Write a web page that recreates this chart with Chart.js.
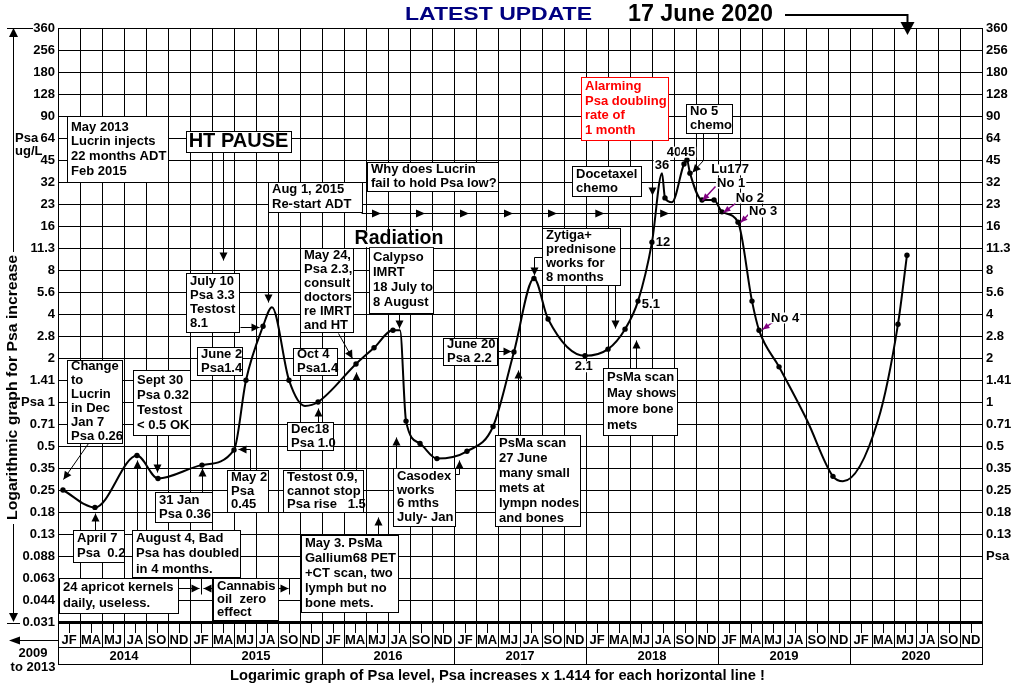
<!DOCTYPE html>
<html>
<head>
<meta charset="utf-8">
<title>Psa log graph</title>
<script src="https://cdn.jsdelivr.net/npm/chart.js@4.4.1/dist/chart.umd.min.js"></script>
<style>
  html, body { margin: 0; padding: 0; background: #fff; }
  canvas { display: block; }
</style>
</head>
<body>
<canvas id="psaChart" width="1021" height="690"></canvas>
<script>
// x = months counted from 1 Jan 2014, y = Psa in ug/L
const months = [0.45, 3.36, 7.18, 9.09, 13.09, 16.0, 17.09, 18.64, 19.45, 21.0, 22.45, 23.64,
  27.09, 28.73, 30.45, 31.09, 31.64, 32.91, 34.45, 37.18, 39.55, 41.45, 43.27, 44.55,
  47.91, 50.0, 51.55, 52.73, 54.0, 54.91, 55.18, 55.82, 56.91, 57.18, 57.45, 58.55,
  59.64, 60.36, 61.82, 63.09, 63.73, 65.55, 68.09, 70.45, 71.36, 74.55, 76.36, 77.18];
const psa = [0.25, 0.19, 0.43, 0.3, 0.37, 0.47, 1.41, 3.3, 4.45, 1.41, 0.94, 1.0,
  1.82, 2.35, 3.1, 3.1, 0.74, 0.52, 0.41, 0.46, 0.68, 2.2, 7.0, 3.7,
  2.07, 2.3, 3.15, 4.9, 12.4, 36.8, 24.9, 23.3, 42.5, 45.3, 36.8, 24.1,
  24.1, 20, 17, 4.9, 3.1, 1.74, 0.75, 0.31, 0.287, 0.75, 3.4, 10.1];
// 1 = measured point drawn as a dot, 0 = bend of the curve only
const dotShown = [1, 1, 1, 1, 1, 1, 1, 1, 0, 1, 0, 1,
  1, 1, 1, 0, 1, 1, 1, 1, 1, 1, 1, 1,
  1, 1, 1, 1, 1, 0, 1, 0, 1, 1, 1, 1,
  1, 1, 1, 1, 1, 1, 0, 1, 0, 0, 1, 1];

// one horizontal line per x1.414 step
const yTickLabels = ['360', '256', '180', '128', '90', '64', '45', '32', '23', '16', '11.3', '8', '5.6', '4',
  '2.8', '2', '1.41', '1', '0.71', '0.5', '0.35', '0.25', '0.18', '0.13', '0.088', '0.063', '0.044', '0.031'];
const leftLabels = yTickLabels.map(s => (s === '1' ? 'Psa 1' : s));
const rightLabels = yTickLabels.map((s, i) => (i < 24 ? s : i === 24 ? 'Psa' : ''));
const yTickValues = yTickLabels.map((s, i) => Math.SQRT2 ** (17 - i));
const monthPairs = ['JF', 'MA', 'MJ', 'JA', 'SO', 'ND'];
const years = ['2014', '2015', '2016', '2017', '2018', '2019', '2020'];

const FONT = '"Liberation Sans", Arial, Helvetica, sans-serif';

// notes: m = month, r = grid row counted down from the 360 line
const notes = [
  { m0: 0.82, r0: 4.0, m1: 10.0, r1: 7.0, lines: ['May 2013', 'Lucrin injects', '22 months ADT', 'Feb 2015'], lh: 14.7 },
  { m0: 11.64, r0: 4.68, m1: 21.18, r1: 5.64, lines: ['HT PAUSE'], size: 20, center: true },
  { m0: 19.09, r0: 7.0, m1: 27.6, r1: 8.36, lines: ['Aug 1, 2015', 'Re-start ADT'], lh: 15 },
  { m0: 28.09, r0: 6.09, m1: 40, r1: 7.41, lines: ['Why does Lucrin', 'fail to hold Psa low?'] },
  { m0: 47.55, r0: 2.23, m1: 55.45, r1: 5.09, lines: ['Alarming', 'Psa doubling', 'rate of', '1 month'], lh: 14.7, color: '#ff0000' },
  { m0: 46.73, r0: 6.27, m1: 53, r1: 7.64, lines: ['Docetaxel', 'chemo'] },
  { m0: 57.09, r0: 3.45, m1: 61.27, r1: 4.77, lines: ['No 5', 'chemo'] },
  { m0: 11.64, r0: 11.14, m1: 16.45, r1: 13.82, lines: ['July 10', 'Psa 3.3', 'Testost', '8.1'] },
  { m0: 12.64, r0: 14.5, m1: 16.73, r1: 15.77, lines: ['June 2', 'Psa1.4'] },
  { m0: 0.82, r0: 15.09, m1: 5.82, r1: 18.86, lines: ['Change', 'to', 'Lucrin', 'in Dec', 'Jan 7', 'Psa 0.26'] },
  { m0: 6.82, r0: 15.55, m1: 12, r1: 18.5, lines: ['Sept 30', 'Psa 0.32', 'Testost', '< 0.5 OK'], lh: 15 },
  { m0: 21.36, r0: 14.55, m1: 25.36, r1: 15.77, lines: ['Oct 4', 'Psa1.4'] },
  { m0: 20.82, r0: 17.91, m1: 25, r1: 19.18, lines: ['Dec18', 'Psa 1.0'] },
  { m0: 22, r0: 10, m1: 26.82, r1: 13.82, lines: ['May 24,', 'Psa 2.3,', 'consult', 'doctors', 're IMRT', 'and HT'] },
  { m0: 28.27, r0: 9.95, m1: 34.09, r1: 12.95, lines: ['Calypso', 'IMRT', '18 July to', '8 August'], lh: 15 },
  { m0: 20.45, r0: 20.09, m1: 27.73, r1: 22, lines: ['Testost 0.9,', 'cannot stop', 'Psa rise   1.5'], lh: 13.7 },
  { m0: 15.36, r0: 20.09, m1: 19.09, r1: 22, lines: ['May 2', 'Psa', '0.45'], lh: 13.7 },
  { m0: 8.82, r0: 21.09, m1: 14, r1: 22.45, lines: ['31 Jan', 'Psa 0.36'] },
  { m0: 1.36, r0: 22.82, m1: 6, r1: 24.27, lines: ['April 7', 'Psa  0.2'], lh: 15 },
  { m0: 6.73, r0: 22.82, m1: 16.55, r1: 24.95, lines: ['August 4, Bad', 'Psa has doubled', 'in 4 months.'], lh: 15.5 },
  { m0: 0.09, r0: 25, m1: 10.91, r1: 26.59, lines: ['24 apricot kernels', 'daily, useless.'], lh: 16 },
  { m0: 14.09, r0: 25, m1: 20, r1: 26.9, lines: ['Cannabis', 'oil  zero', 'effect'], lh: 13 },
  { m0: 22.09, r0: 23.05, m1: 30.91, r1: 26.55, lines: ['May 3. PsMa', 'Gallium68 PET', '+CT scan, two', 'lymph but no', 'bone mets.'], lh: 15 },
  { m0: 30.45, r0: 20, m1: 36.09, r1: 22.64, lines: ['Casodex', 'works', '6 mths', 'July- Jan'], lh: 13.7 },
  { m0: 39.73, r0: 18.5, m1: 47.45, r1: 22.64, lines: ['PsMa scan', '27 June', 'many small', 'mets at', 'lympn nodes', 'and bones'], lh: 15 },
  { m0: 35, r0: 14.09, m1: 39.91, r1: 15.32, lines: ['June 20', 'Psa 2.2'] },
  { m0: 44, r0: 9.09, m1: 51.09, r1: 11.68, lines: ['Zytiga+', 'prednisone', 'works for', '8 months'] },
  { m0: 49.55, r0: 15.45, m1: 56.27, r1: 18.5, lines: ['PsMa scan', 'May shows', 'more bone', 'mets'], lh: 16 }
];

const tags = [
  { m: 54.9, r: 6.23, t: '36' }, { m: 56.0, r: 5.64, t: '40' }, { m: 57.27, r: 5.64, t: '45' },
  { m: 55.0, r: 9.73, t: '12' }, { m: 53.9, r: 12.55, t: '5.1' }, { m: 47.8, r: 15.4, t: '2.1' },
  { m: 61.1, r: 6.45, t: 'Lu177' }, { m: 61.2, r: 7.05, t: 'No 1' }, { m: 62.9, r: 7.73, t: 'No 2' },
  { m: 64.1, r: 8.36, t: 'No 3' }, { m: 66.1, r: 13.18, t: 'No 4' },
  { m: 31, r: 9.59, t: 'Radiation', size: 19.5 }
];

const PURPLE = '#800080';
const arrows = [
  { p: [[15.0, 5.64], [15.0, 10.55]] },
  { p: [[19.09, 8.36], [19.09, 12.45]] },
  { p: [[54, 7.05], [54, 7.6]] },
  { p: [[58.64, 4.77], [58.64, 6.0], [57.64, 6.55]] },
  { p: [[59.73, 7.18], [58.55, 7.82]], c: PURPLE },
  { p: [[61.55, 7.95], [60.45, 8.36]], c: PURPLE },
  { p: [[62.73, 8.45], [62.0, 8.82]], c: PURPLE },
  { p: [[64.9, 13.36], [64.0, 13.68]], c: PURPLE },
  { p: [[16.55, 13.59], [18.27, 13.59]] },
  { p: [[2.73, 18.86], [0.45, 20.5]] },
  { p: [[9.0, 18.5], [9.0, 20.18]] },
  { p: [[23.64, 17.91], [23.64, 17.27]] },
  { p: [[25.45, 13.86], [26.73, 15.0]] },
  { p: [[31, 12.95], [31, 13.64]] },
  { p: [[27.09, 20.09], [27.09, 15.64]] },
  { p: [[17.45, 20.09], [17.45, 19.14], [16.36, 19.14]] },
  { p: [[13.09, 21.09], [13.09, 20.0]] },
  { p: [[3.36, 22.82], [3.36, 22.05]] },
  { p: [[7.18, 22.82], [7.18, 19.64]] },
  { p: [[29.09, 23.05], [29.09, 22.23]] },
  { p: [[30.73, 20], [30.73, 18.59]] },
  { p: [[36.09, 20.27], [36.45, 20.27], [36.45, 19.64]] },
  { p: [[41.82, 18.5], [41.82, 15.55]] },
  { p: [[39.91, 14.68], [41.18, 14.68]] },
  { p: [[44, 10.41], [43.27, 10.41], [43.27, 11.23]] },
  { p: [[50.64, 11.68], [50.64, 13.64]] },
  { p: [[52.55, 15.45], [52.55, 14.18]] },
  { p: [[10.91, 25.45], [12.82, 25.45]] },
  { p: [[14.09, 25.45], [13.18, 25.45]] },
  { p: [[20, 25.45], [20.9, 25.45]] }
];
const stopBars = [13, 21];
const adtRow = 8.41;
const adtHeads = [29, 33, 37, 41, 45, 49.3, 55.2];

function fnt(size) { return 'bold ' + size + 'px ' + FONT; }

function txt(c, s, x, y, o = {}) {
  const size = o.size || 13, color = o.color || '#000';
  c.font = fnt(size);
  c.textBaseline = 'middle';
  c.textAlign = 'left';
  const w = c.measureText(s).width;
  const sx = o.width ? o.width / w : 1;
  const left = o.align === 'center' ? x - w * sx / 2 : o.align === 'right' ? x - w * sx : x;
  if (o.bg) {
    c.fillStyle = '#fff';
    c.fillRect(left - 1, y - size * 0.42, w * sx + 2, size * 0.84);
  }
  c.fillStyle = color;
  c.save();
  c.translate(left, y);
  c.scale(sx, 1);
  c.fillText(s, 0, 0);
  c.restore();
}

function head(c, ax, ay, bx, by, L = 8, W = 4) {
  const a = Math.atan2(by - ay, bx - ax), ca = Math.cos(a), sa = Math.sin(a);
  c.beginPath();
  c.moveTo(bx, by);
  c.lineTo(bx - L * ca + W * sa, by - L * sa - W * ca);
  c.lineTo(bx - L * ca - W * sa, by - L * sa + W * ca);
  c.closePath();
  c.fill();
}

function line(c, x0, y0, x1, y1) {
  c.beginPath();
  c.moveTo(x0, y0);
  c.lineTo(x1, y1);
  c.stroke();
}

const decor = {
  id: 'decor',
  beforeDraw(chart) {
    const c = chart.ctx;
    c.save();
    c.fillStyle = '#fff';
    c.fillRect(0, 0, chart.width, chart.height);
    c.restore();
  },
  afterDraw(chart) {
    const c = chart.ctx, xs = chart.scales.x, ys = chart.scales.y, area = chart.chartArea;
    const X = m => xs.getPixelForValue(m);
    const Y = r => ys.getPixelForValue(Math.SQRT2 ** (17 - r));
    const px = v => Math.round(v) + 0.5;
    c.save();
    c.lineWidth = 1;
    c.strokeStyle = '#000';
    c.fillStyle = '#000';

    // boxed notes
    notes.forEach(n => {
      const x0 = Math.round(X(n.m0)), x1 = Math.round(X(n.m1));
      const y0 = Math.round(Y(n.r0)), y1 = Math.round(Y(n.r1));
      c.fillStyle = '#fff';
      c.fillRect(x0, y0, x1 - x0, y1 - y0);
      c.strokeStyle = n.color || '#000';
      c.strokeRect(x0 + 0.5, y0 + 0.5, x1 - x0, y1 - y0);
      const lh = n.lh || 14, first = (y0 + y1) / 2 - (n.lines.length - 1) * lh / 2;
      n.lines.forEach((s, i) => txt(c, s, n.center ? (x0 + x1) / 2 : x0 + 4, first + i * lh,
        { size: n.size || 13, align: n.center ? 'center' : 'left', color: n.color }));
    });

    // arrows
    arrows.forEach(a => {
      const p = a.p.map(([m, r]) => [px(X(m)), px(Y(r))]);
      c.strokeStyle = a.c || '#000';
      c.fillStyle = a.c || '#000';
      c.lineWidth = a.c ? 1.5 : 1;
      c.beginPath();
      c.moveTo(p[0][0], p[0][1]);
      p.slice(1).forEach(q => c.lineTo(q[0], q[1]));
      c.stroke();
      const n = p.length;
      head(c, p[n - 2][0], p[n - 2][1], p[n - 1][0], p[n - 1][1], a.c ? 7 : 8, a.c ? 3 : 4);
    });
    c.lineWidth = 1;
    c.strokeStyle = '#000';
    c.fillStyle = '#000';
    stopBars.forEach(m => line(c, px(X(m)), Y(25), px(X(m)), Y(25.75)));

    // re-start ADT line
    const ya = px(Y(adtRow));
    line(c, X(27.6), ya, X(62), ya);
    adtHeads.forEach(m => head(c, X(m) - 6, ya, X(m) + 4, ya, 9, 4));

    // small labels
    tags.forEach(t => txt(c, t.t, X(t.m), Y(t.r), { size: t.size || 13, align: 'center', bg: true }));

    // left axis extras
    txt(c, 'Psa', 15, Y(5), {});
    txt(c, 'ug/L', 15, Y(5.6), {});
    const ax = 13.5;
    line(c, 7, area.top + 0.5, 33, area.top + 0.5);
    line(c, ax, area.top + 6, ax, 252);
    head(c, ax, area.top + 10, ax, area.top, 9, 4.5);
    line(c, ax, 524, ax, area.bottom - 6);
    head(c, ax, area.bottom - 10, ax, area.bottom, 9, 4.5);
    line(c, 7, area.bottom + 1.5, 20, area.bottom + 1.5);
    c.save();
    c.translate(13, 387.5);
    c.rotate(-Math.PI / 2);
    txt(c, 'Logarithmic graph for Psa increase', 0, 0, { size: 15, align: 'center', width: 265 });
    c.restore();

    // bottom calendar band
    const yb = area.bottom;
    c.fillRect(area.left, yb - 1, area.right - area.left + 1, 3);
    for (let m = 0; m <= 84; m++) {
      line(c, px(X(m)), yb, px(X(m)), m % 2 === 0 ? yb + 25 : yb + 11);
    }
    line(c, area.left, yb + 25.5, area.right + 1, yb + 25.5);
    line(c, area.left, yb + 42.5, area.right + 1, yb + 42.5);
    for (let m = 0; m <= 84; m += 12) line(c, px(X(m)), yb + 25, px(X(m)), yb + 42);
    for (let m = 0; m < 84; m += 2) txt(c, monthPairs[(m / 2) % 6], X(m + 1), yb + 18.5, { align: 'center' });
    years.forEach((s, k) => txt(c, s, X(12 * k + 6), yb + 34, { align: 'center' }));
    line(c, 12, yb + 18.5, area.left, yb + 18.5);
    head(c, 20, yb + 18.5, 9, yb + 18.5, 11, 4);
    txt(c, '2009', 33, yb + 31, { align: 'center' });
    txt(c, 'to 2013', 33, yb + 45.5, { align: 'center' });
    txt(c, 'Logarimic graph of Psa level, Psa increases x 1.414 for each horizontal line !', 497.5, yb + 54,
      { size: 14, align: 'center', width: 535 });

    // heading
    txt(c, 'LATEST UPDATE', 498.5, area.top - 13, { size: 18, align: 'center', width: 187, color: '#000080' });
    txt(c, '17 June 2020', 700.5, area.top - 13, { size: 23, align: 'center', width: 145 });
    const xe = Math.round(X(months[months.length - 1])) + 0.5;
    c.lineWidth = 2;
    line(c, 785, 15, xe, 15);
    line(c, xe, 14, xe, 23);
    c.beginPath();
    c.moveTo(xe - 7, 22);
    c.lineTo(xe + 7, 22);
    c.lineTo(xe, area.top + 7);
    c.closePath();
    c.fill();
    c.restore();
  }
};

const tickFont = { family: FONT, size: 13, weight: 'bold' };
const setYTicks = s => { s.ticks = yTickValues.map(v => ({ value: v })); };

new Chart(document.getElementById('psaChart').getContext('2d'), {
  type: 'line',
  data: {
    datasets: [{
      data: months.map((m, i) => ({ x: m, y: psa[i] })),
      borderColor: '#000',
      borderWidth: 2,
      pointRadius: dotShown.map(d => (d ? 2.7 : 0)),
      pointBackgroundColor: '#000',
      pointBorderWidth: 0,
      cubicInterpolationMode: 'monotone',
      fill: false
    }]
  },
  options: {
    responsive: false,
    animation: false,
    devicePixelRatio: 1,
    layout: { padding: { top: 28, left: 0, right: 0, bottom: 0 } },
    plugins: { legend: { display: false }, tooltip: { enabled: false } },
    scales: {
      x: {
        type: 'linear',
        min: 0,
        max: 84,
        afterBuildTicks: s => { s.ticks = Array.from({ length: 43 }, (_, k) => ({ value: 2 * k })); },
        ticks: { display: false },
        grid: { color: '#000', lineWidth: 1, drawTicks: false },
        border: { display: false },
        afterFit: s => { s.height = 68; }
      },
      y: {
        type: 'logarithmic',
        position: 'left',
        min: yTickValues[yTickValues.length - 1],
        max: yTickValues[0],
        afterBuildTicks: setYTicks,
        ticks: { autoSkip: false, padding: 3, color: '#000', font: tickFont, callback: (v, i) => leftLabels[i] },
        grid: { color: '#000', lineWidth: 1, drawTicks: false },
        border: { display: false },
        afterFit: s => { s.width = 58; }
      },
      y2: {
        type: 'logarithmic',
        position: 'right',
        min: yTickValues[yTickValues.length - 1],
        max: yTickValues[0],
        afterBuildTicks: setYTicks,
        ticks: { autoSkip: false, padding: 4, color: '#000', font: tickFont, callback: (v, i) => rightLabels[i] },
        grid: { display: false, drawTicks: false },
        border: { display: false },
        afterFit: s => { s.width = 39; }
      }
    }
  },
  plugins: [decor]
});
</script>
</body>
</html>
